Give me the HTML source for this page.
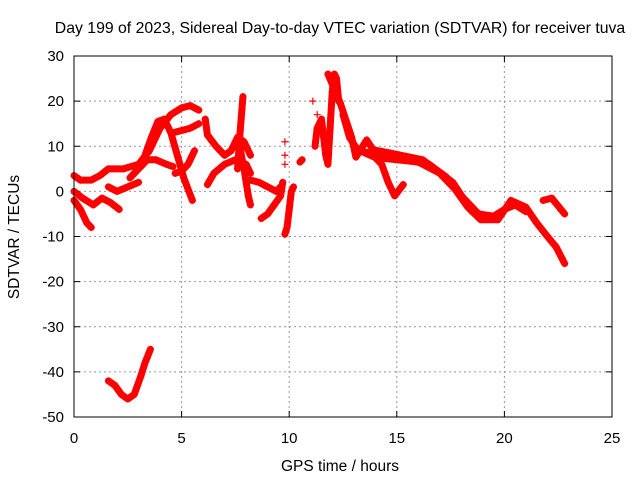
<!DOCTYPE html>
<html><head><meta charset="utf-8"><style>
html,body{margin:0;padding:0;background:#fff}
svg{display:block;font-family:"Liberation Sans",sans-serif}
</style></head><body>
<svg id="chart" width="640" height="480">
<text x="340" y="33" text-anchor="middle" font-size="15.8">Day 199 of 2023, Sidereal Day-to-day VTEC variation (SDTVAR) for receiver tuva</text>
<text x="340" y="471" text-anchor="middle" font-size="15.5">GPS time / hours</text>
<text transform="translate(19,237) rotate(-90)" text-anchor="middle" font-size="15.5">SDTVAR / TECUs</text>
<g id="grid"></g><g id="ticks"></g><g id="marks"></g>
<rect x="74" y="56" width="538" height="361" fill="none" stroke="#000" stroke-width="1"/>
</svg>
<script>
const xTicks=[0,5,10,15,20,25];
const yTicks=[-50,-40,-30,-20,-10,0,10,20,30];
const track1=[[0,3.5],[0.3,2.5],[0.8,2.5],[1.2,3.5],[1.6,5],[2.3,5],[3,6],[3.5,9],[4,14],[4.5,17],[5,18.5],[5.4,19],[5.8,18]];
const track2=[[3.3,8],[3.6,12],[3.9,15.5],[4.2,16],[4.5,13],[4.8,8],[5.1,3],[5.5,-2]];
const track3=[[0,0],[0.4,-1.5],[0.9,-3],[1.3,-1.5],[1.7,-2.5],[2.1,-4]];
const track4=[[0,-2],[0.3,-4],[0.6,-7],[0.8,-8]];
const track5=[[1.6,1],[2,0],[2.5,1],[3,2]];
const track6=[[2.6,3],[3,5],[3.4,7],[3.8,7],[4.3,6],[4.6,5.5]];
const track7=[[4.6,13],[5,13.5],[5.4,14],[5.8,15]];
const track8=[[4.7,4],[5,4.5],[5.3,6],[5.6,9]];
const track9=[[6.2,1.5],[6.5,4],[7,6],[7.5,7],[8,6],[8.2,4]];
const track10=[[6.1,16],[6.2,12.5],[6.6,10],[7,8],[7.3,9],[7.6,12],[7.9,11],[8.2,8]];
const track11=[[7.6,5],[7.7,12],[7.8,18],[7.85,21]];
const track12=[[7.7,10],[7.9,5],[8.1,-1],[8.2,-3]];
const track13=[[8.2,2.5],[8.6,2],[9,1],[9.4,0],[9.6,1]];
const track14=[[8.7,-6],[9,-5],[9.3,-3],[9.6,-1],[9.7,2]];
const track15=[[9.8,-9.5],[9.9,-8],[10,-4],[10.1,0],[10.2,1]];
const track16=[[10.5,6.5],[10.6,7]];
const track17=[[11.2,10],[11.3,14],[11.5,16],[11.6,12],[11.7,8],[11.8,6],[11.9,14],[12,22],[12.1,26],[12.2,25],[12.3,20]];
const track18=[[11.8,26],[12.37,19.6],[12.9,12],[13.1,7.6],[13.6,11.4],[13.9,9.2],[14.7,8.5],[16.2,7],[17.3,3.2],[18.3,-3.5],[18.9,-6.3],[19.7,-6.3],[20.3,-2],[21,-3.5],[21.5,-7],[22,-10],[22.4,-12.3],[22.8,-16]];
const track19=[[13.9,8],[14.3,6],[14.6,2],[14.9,-1],[15.3,1.5]];
const track20=[[21.8,-2],[22.2,-1.5],[22.8,-5]];
const track21=[[1.6,-42],[1.9,-43],[2.2,-45],[2.5,-46],[2.8,-45],[3.1,-41],[3.3,-38],[3.55,-35]];
const track22=[[13.3,9],[14,7.5],[15,7],[16,6.5],[17,4],[18,-1],[18.8,-5],[19.5,-5.5],[20,-4],[20.5,-3],[21,-4.5]];
const track23=[[12.5,17],[12.8,12],[13.2,9],[13.8,8.5],[14.8,7.5],[16.5,6],[17.6,2],[18.5,-4.5],[19.2,-5.5]];
const markers=[[9.8,11],[9.8,8],[9.8,6],[11.1,20],[11.3,17],[11.5,15]];
const tracks=[track1,track2,track3,track4,track5,track6,track7,track8,track9,track10,track11,track12,track13,track14,track15,track16,track17,track18,track19,track20,track21,track22,track23];
const NS="http://www.w3.org/2000/svg";
const X=h=>74+h*538/25, Y=v=>417-(v+50)*361/80;
const grid=document.getElementById('grid'),ticks=document.getElementById('ticks'),marks=document.getElementById('marks');
function mk(tag,attrs,parent){const e=document.createElementNS(NS,tag);for(const k in attrs)e.setAttribute(k,attrs[k]);parent.appendChild(e);return e;}
xTicks.forEach(t=>{
 const x=X(t);
 if(t>0&&t<25){const g=mk('line',{x1:x,x2:x,y1:56,y2:417,stroke:'#999','stroke-dasharray':'2,3'},grid);
 
 }
 mk('line',{x1:x,x2:x,y1:417,y2:411,stroke:'#000'},ticks);mk('line',{x1:x,x2:x,y1:56,y2:62,stroke:'#000'},ticks);
 const l=mk('text',{x:x,y:443,'text-anchor':'middle','font-size':15},ticks);l.textContent=t;
 
 
});
yTicks.forEach(t=>{
 const y=Y(t);
 if(t>-50&&t<30){const g=mk('line',{x1:74,x2:612,y1:y,y2:y,stroke:'#999','stroke-dasharray':'2,3'},grid);
 
 }
 mk('line',{x1:74,x2:80,y1:y,y2:y,stroke:'#000'},ticks);mk('line',{x1:612,x2:606,y1:y,y2:y,stroke:'#000'},ticks);
 const l=mk('text',{x:64,y:y+5,'text-anchor':'end','font-size':15},ticks);l.textContent=t;
 
 
});
function plus(h,v,col){const x=X(h),y=Y(v);
 const p=mk('path',{d:`M${x-3.5},${y}h7M${x},${y-3.5}v7`,stroke:col,'stroke-width':1.2},marks);
 
 }
tracks.forEach(tr=>{
 const pl=mk('polyline',{points:tr.map(p=>X(p[0])+','+Y(p[1])).join(' '),fill:'none',stroke:'#f00','stroke-width':7,'stroke-linejoin':'round','stroke-linecap':'round'},marks);
 
 
 tr.forEach(p=>plus(p[0],p[1],'#f00'));
});
markers.forEach(p=>plus(p[0],p[1],'#f00'));
</script>
</body></html>
